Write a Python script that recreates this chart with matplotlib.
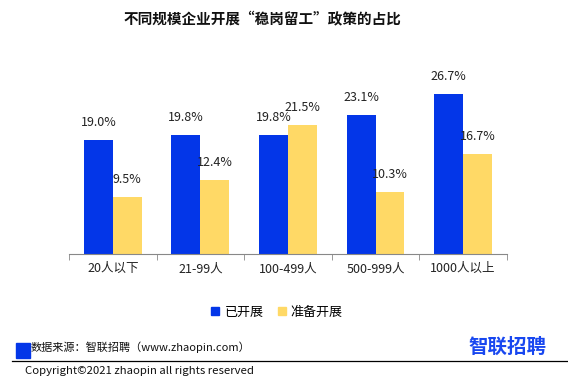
import matplotlib.pyplot as plt
import matplotlib.patches as mpatches
import numpy as np

plt.rcParams['font.family'] = ['Noto Sans CJK SC', 'DejaVu Sans']

# Data
categories = ['20人以下', '21-99人', '100-499人', '500-999人', '1000人以上']
started = [19.0, 19.8, 19.8, 23.1, 26.7]
planned = [9.5, 12.4, 21.5, 10.3, 16.7]
series_names = ['已开展', '准备开展']

BLUE = '#0336E8'
YELLOW = '#FFD966'

fig = plt.figure(figsize=(5.68, 3.9), dpi=100)
ax = fig.add_axes([0.1215, 0.3487, 0.771, 0.4615])

x = np.arange(len(categories))
w = 0.33
b1 = ax.bar(x - w / 2, started, w, color=BLUE)
b2 = ax.bar(x + w / 2, planned, w, color=YELLOW)

for bars, vals in [(b1, started), (b2, planned)]:
    for bar, v in zip(bars, vals):
        ax.annotate(f'{v:.1f}%', (bar.get_x() + bar.get_width() / 2, v),
                    xytext=(0, 8), textcoords='offset points',
                    ha='center', va='bottom', fontsize=9, color='#222222')

ax.set_xlim(-0.5, len(categories) - 0.5)
ax.set_ylim(0, 30)
ax.set_yticks([])
ax.set_xticks(x)
ax.set_xticklabels(categories, fontsize=9, color='#222222')
ax.tick_params(axis='x', which='major', length=0, pad=6)
ax.set_xticks(np.arange(-0.5, len(categories)), minor=True)
ax.tick_params(axis='x', which='minor', length=4, color='#888888')
for s in ['top', 'right', 'left']:
    ax.spines[s].set_visible(False)
ax.spines['bottom'].set_color('#888888')

# Title
fig.text(262 / 568, 0.951, '不同规模企业开展“稳岗留工”政策的占比', ha='center', va='center',
         fontsize=10.5, fontweight='bold', color='#111111')

# Legend
handles = [mpatches.Patch(color=BLUE, label=series_names[0]),
           mpatches.Patch(color=YELLOW, label=series_names[1])]
fig.legend(handles=handles, loc='center', bbox_to_anchor=(277 / 568, 1 - 312 / 390), ncol=2,
           frameon=False, fontsize=9.4, handlelength=0.6, handleheight=0.6,
           columnspacing=1.1, handletextpad=0.4)

# Footer
fig.patches.append(mpatches.Rectangle((16 / 568, 1 - 358 / 390), 14 / 568, 15 / 390,
                                      transform=fig.transFigure, color=BLUE))
fig.text(31 / 568, 1 - 347 / 390, '数据来源：智联招聘（www.zhaopin.com）', ha='left',
         va='center', fontsize=8, color='#111111')
fig.lines.append(plt.Line2D([12 / 568, 1], [1 - 361 / 390] * 2, transform=fig.transFigure,
                            color='black', lw=0.9))
fig.text(25 / 568, 1 - 371 / 390, 'Copyright©2021 zhaopin all rights reserved', ha='left',
         va='center', fontsize=8.2, color='#111111')
fig.text(507 / 568, 1 - 347 / 390, '智联招聘', ha='center', va='center', fontsize=14,
         fontweight='bold', color='#1847F0')

fig.savefig('out.png', dpi=100)
